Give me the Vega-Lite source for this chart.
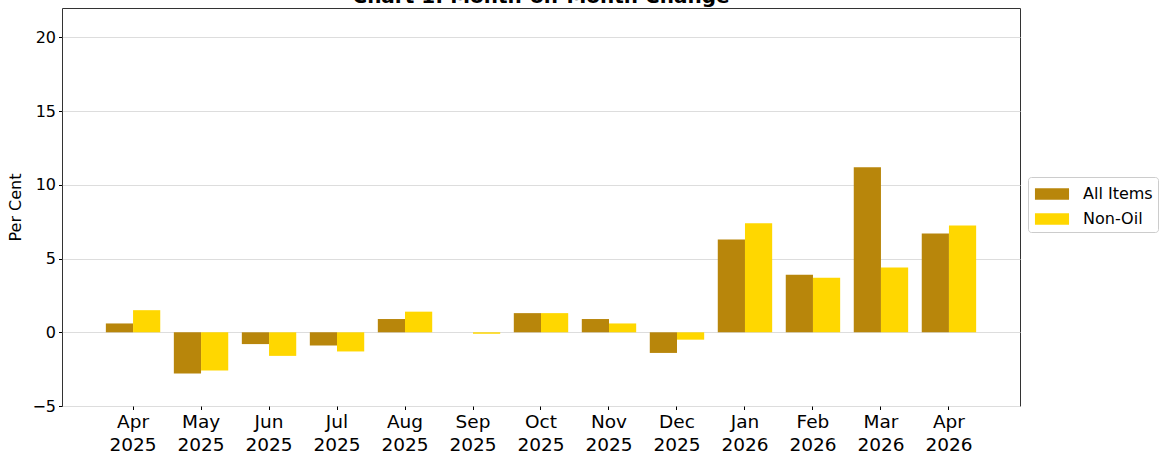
{
  "$schema": "https://vega.github.io/schema/vega-lite/v6.json",
  "autosize": "none",
  "width": 958,
  "height": 398,
  "padding": {"left": 62, "top": 8, "right": 140, "bottom": 51},
  "background": "white",
  "title": {"text": "Chart 1: Month-on-Month Change", "fontSize": 20, "fontWeight": "bold", "font": "DejaVu Sans", "color": "black", "anchor": "middle", "offset": 1},
  "data": {"values": [
    {"month": "Apr 2025", "series": "All Items", "value": 0.6},
    {"month": "Apr 2025", "series": "Non-Oil", "value": 1.5},
    {"month": "May 2025", "series": "All Items", "value": -2.8},
    {"month": "May 2025", "series": "Non-Oil", "value": -2.6},
    {"month": "Jun 2025", "series": "All Items", "value": -0.8},
    {"month": "Jun 2025", "series": "Non-Oil", "value": -1.6},
    {"month": "Jul 2025", "series": "All Items", "value": -0.9},
    {"month": "Jul 2025", "series": "Non-Oil", "value": -1.3},
    {"month": "Aug 2025", "series": "All Items", "value": 0.9},
    {"month": "Aug 2025", "series": "Non-Oil", "value": 1.4},
    {"month": "Sep 2025", "series": "All Items", "value": 0.0},
    {"month": "Sep 2025", "series": "Non-Oil", "value": -0.1},
    {"month": "Oct 2025", "series": "All Items", "value": 1.3},
    {"month": "Oct 2025", "series": "Non-Oil", "value": 1.3},
    {"month": "Nov 2025", "series": "All Items", "value": 0.9},
    {"month": "Nov 2025", "series": "Non-Oil", "value": 0.6},
    {"month": "Dec 2025", "series": "All Items", "value": -1.4},
    {"month": "Dec 2025", "series": "Non-Oil", "value": -0.5},
    {"month": "Jan 2026", "series": "All Items", "value": 6.3},
    {"month": "Jan 2026", "series": "Non-Oil", "value": 7.4},
    {"month": "Feb 2026", "series": "All Items", "value": 3.9},
    {"month": "Feb 2026", "series": "Non-Oil", "value": 3.7},
    {"month": "Mar 2026", "series": "All Items", "value": 11.2},
    {"month": "Mar 2026", "series": "Non-Oil", "value": 4.4},
    {"month": "Apr 2026", "series": "All Items", "value": 6.7},
    {"month": "Apr 2026", "series": "Non-Oil", "value": 7.25}
  ]},
  "mark": {"type": "bar"},
  "encoding": {
    "x": {
      "field": "month", "type": "nominal", "sort": null,
      "scale": {"paddingInner": 0.2, "paddingOuter": 0.645},
      "axis": {
        "title": null, "labelAngle": 0, "labelExpr": "split(datum.label, ' ')",
        "labelFontSize": 18.5, "labelLineHeight": 23, "labelFont": "DejaVu Sans", "labelColor": "black",
        "domain": false, "ticks": true, "tickSize": 3.5, "tickColor": "black", "labelPadding": 3, "grid": false,
        "labelBaseline": "top"
      }
    },
    "xOffset": {"field": "series", "type": "nominal", "sort": ["All Items", "Non-Oil"]},
    "y": {
      "field": "value", "type": "quantitative",
      "scale": {"domain": [-5, 22], "nice": false, "zero": false},
      "axis": {
        "title": "Per Cent", "titleFontSize": 16, "titleFont": "DejaVu Sans", "titleFontWeight": "normal", "titleColor": "black", "titlePadding": 8,
        "values": [-5, 0, 5, 10, 15, 20],
        "labelFontSize": 16, "labelFont": "DejaVu Sans", "labelColor": "black",
        "domain": false, "tickSize": 3.5, "tickColor": "black", "labelPadding": 3,
        "grid": true, "gridColor": "#dddddd", "gridWidth": 1
      }
    },
    "color": {
      "field": "series", "type": "nominal",
      "scale": {"domain": ["All Items", "Non-Oil"], "range": ["#B8860B", "#FFD700"]},
      "legend": {
        "title": null, "orient": "none", "legendX": 966, "legendY": 169,
        "symbolType": "M-1.42,-0.47L1.42,-0.47L1.42,0.47L-1.42,0.47Z", "symbolSize": 576, "symbolStrokeWidth": 0, "symbolOffset": 7,
        "labelFontSize": 16, "labelFont": "DejaVu Sans", "labelColor": "black", "labelOffset": 19,
        "rowPadding": 5, "padding": 5, "strokeColor": "#cccccc", "fillColor": "white", "cornerRadius": 3
      }
    }
  },
  "config": {
    "view": {"stroke": "#333333", "strokeWidth": 1},
    "axis": {"gridCap": "butt"}
  }
}
